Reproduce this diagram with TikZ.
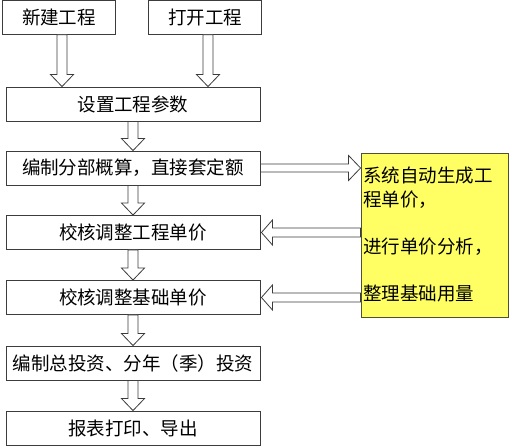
\documentclass[tikz,border=0pt]{standalone}
\usepackage{fontspec}
\newfontfamily\cjk{Noto Sans CJK SC}
\usetikzlibrary{calc}
\definecolor{boxline}{RGB}{60,60,60}
\definecolor{noteyellow}{RGB}{255,255,100}
\definecolor{noteline}{RGB}{80,80,50}
\tikzset{
  stepbox/.style={draw=boxline, line width=0.9pt, fill=white, minimum width=254pt, minimum height=34pt, inner sep=0pt, font=\cjk\fontsize{18.5}{22}\selectfont},
  topbox/.style={stepbox, minimum width=113pt, minimum height=33.5pt},
  blk/.style={draw=boxline, line width=0.8pt, fill=white, line join=miter},
  notebox/.style={draw=noteline, line width=0.9pt, fill=noteyellow, minimum width=147pt, minimum height=164pt, inner sep=0pt},
  noteline/.style={anchor=west, inner sep=0pt, font=\cjk\fontsize{18.5}{22}\selectfont}
}
\newcommand\downarr[3]{%
  \draw[blk] let \p1=($(#1.south)+(#3,0)$), \p2=(#2.north) in
    (\x1-5pt,\y1) -- (\x1-5pt,\y2+12pt) -- (\x1-11.5pt,\y2+12pt) -- (\x1,\y2)
    -- (\x1+11.5pt,\y2+12pt) -- (\x1+5pt,\y2+12pt) -- (\x1+5pt,\y1) -- cycle;}
\newcommand\rightarr[2]{%
  \draw[blk] let \p1=(#1.east), \p2=(#2.west) in
    (\x1,\y1+4pt) -- (\x2-12pt,\y1+4pt) -- (\x2-12pt,\y1+12.5pt) -- (\x2,\y1)
    -- (\x2-12pt,\y1-12.5pt) -- (\x2-12pt,\y1-4pt) -- (\x1,\y1-4pt) -- cycle;}
\newcommand\leftarr[2]{%
  \draw[blk] let \p1=(#1.west), \p2=(#2.east) in
    (\x1,\y2+4.5pt) -- (\x2+12pt,\y2+4.5pt) -- (\x2+12pt,\y2+12.5pt) -- (\x2+1pt,\y2)
    -- (\x2+12pt,\y2-12.5pt) -- (\x2+12pt,\y2-4.5pt) -- (\x1,\y2-4.5pt) -- cycle;}
\begin{document}
\begin{tikzpicture}[x=1pt,y=-1pt]
\useasboundingbox[fill=white] (0,0) rectangle (512,446);
\node[topbox] (new) at (59,17.5) {新建工程};
\node[topbox] (open) at (205,17.5) {打开工程};
\node[stepbox] (param) at (133,104) {设置工程参数};
\node[stepbox] (budget) at (133,168) {编制分部概算，直接套定额};
\node[stepbox] (price) at (133,232.5) {校核调整工程单价};
\node[stepbox] (base) at (133,297.5) {校核调整基础单价};
\node[stepbox] (invest) at (133,363) {编制总投资、分年（季）投资};
\node[stepbox] (report) at (133,428) {报表打印、导出};
\node[notebox] (note) at (434.5,235) {};
\node[noteline] (n1) at (363,176) {系统自动生成工};
\node[noteline] (n2) at (363,199.5) {程单价，};
\node[noteline] (n3) at (363,246.5) {进行单价分析，};
\node[noteline] (n4) at (363,294) {整理基础用量};
\downarr{new}{param}{3}
\downarr{open}{param}{3}
\downarr{param}{budget}{0}
\downarr{budget}{price}{0}
\downarr{price}{base}{0}
\downarr{base}{invest}{0}
\downarr{invest}{report}{0}
\rightarr{budget}{note}
\leftarr{note}{price}
\leftarr{note}{base}
\end{tikzpicture}
\end{document}
